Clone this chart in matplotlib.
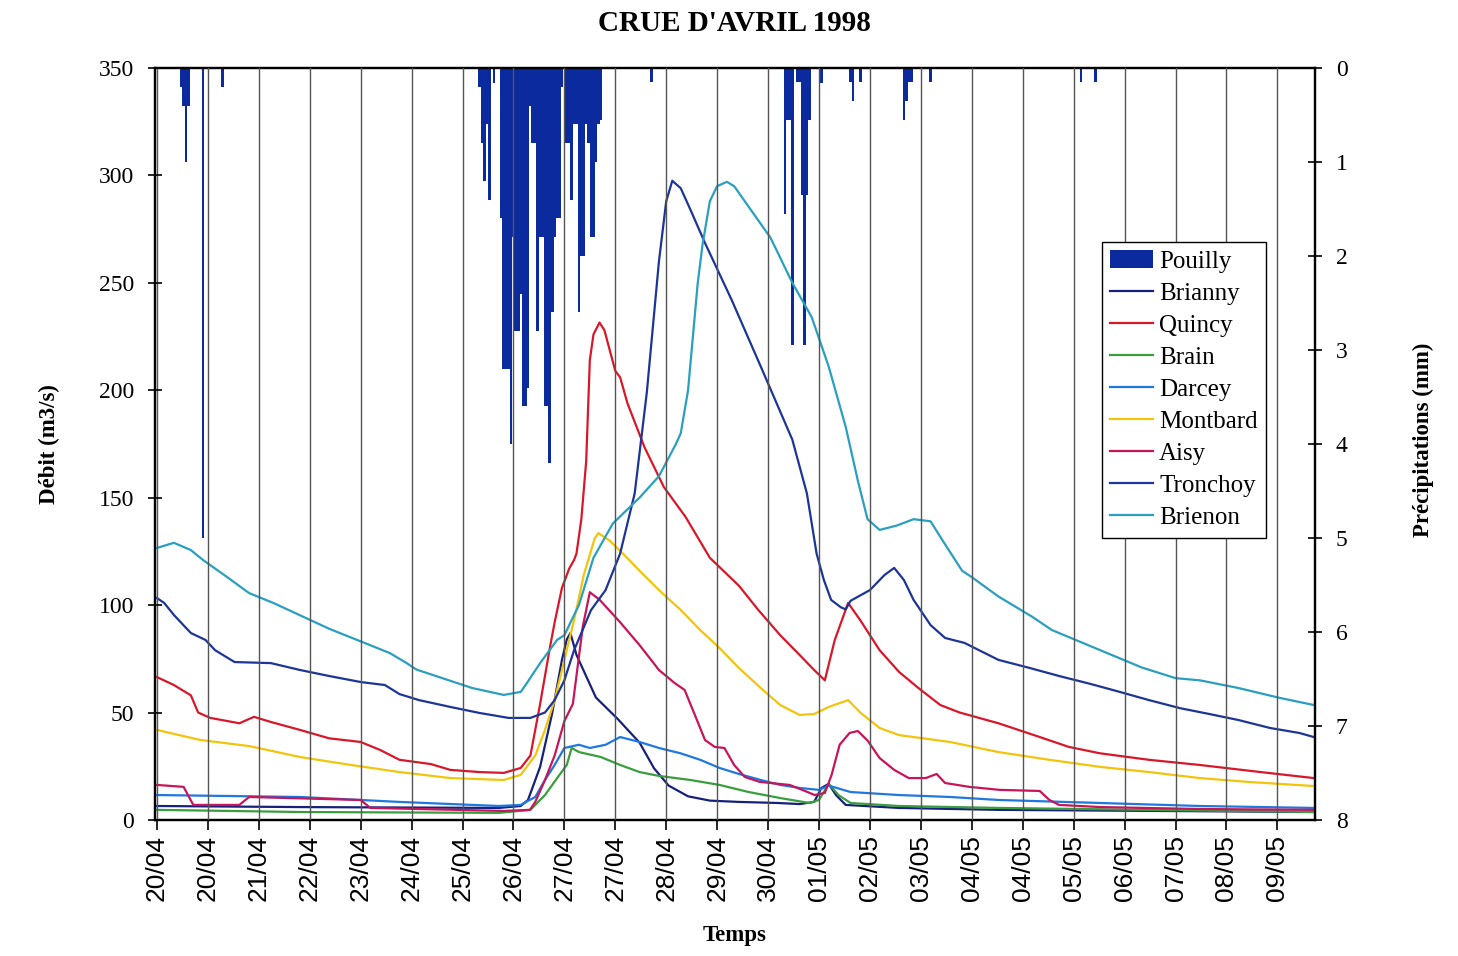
import matplotlib
matplotlib.use("Agg")
import matplotlib.pyplot as plt

plt.rcParams['font.family'] = ['Liberation Serif', 'DejaVu Serif']

# time axis: hours since 20/04 00h, one label every 21 h
tick_labels = ['20/04', '20/04', '21/04', '22/04', '23/04', '24/04', '25/04',
               '26/04', '27/04', '27/04', '28/04', '29/04', '30/04', '01/05',
               '02/05', '03/05', '04/05', '04/05', '05/05', '06/05', '07/05',
               '08/05', '09/05']
tick_step = 21

# Pouilly hourly rain (mm)
rain_h = [10, 11, 12, 13, 19, 27,
          133, 134, 135, 136, 137, 139,
          142, 143, 144, 145, 146, 147, 148, 149, 150, 151, 152, 153, 154, 155,
          156, 157, 158, 159, 160, 161, 162, 163, 164, 165, 166, 167,
          169, 170, 171, 172, 173, 174, 175, 176, 177, 178, 179, 180, 181, 182, 183,
          204, 259, 260, 261, 262, 264, 265, 266, 267, 268, 269, 274,
          286, 287, 290, 308, 309, 310, 311, 319, 381, 387]
rain_mm = [0.2, 0.4, 1.0, 0.4, 5.0, 0.2,
           0.2, 0.8, 1.2, 0.6, 1.4, 0.16,
           1.6, 3.2, 3.2, 3.2, 4.0, 1.8, 2.8, 2.8, 2.4, 3.6, 3.6, 3.4, 0.4, 0.8,
           0.8, 2.8, 1.8, 1.8, 3.6, 3.6, 4.2, 2.6, 1.8, 1.6, 1.6, 0.2,
           0.8, 0.8, 1.4, 0.6, 0.6, 2.6, 2.0, 2.0, 0.6, 0.8, 1.8, 1.8, 1.0, 0.6, 0.55,
           0.15, 1.55, 0.55, 0.55, 2.95, 0.15, 0.15, 1.35, 2.95, 1.35, 0.55, 0.16,
           0.15, 0.35, 0.15, 0.55, 0.35, 0.15, 0.15, 0.15, 0.15, 0.15]

# discharges (m3/s)
brianny_h = [0, 59, 141, 150, 153, 158, 163, 167, 169, 170.5, 173, 181, 190, 199,
             205, 211, 219, 228, 240, 256, 265, 271, 274, 277, 280, 284, 306, 347, 477]
brianny_q = [6.5, 6, 5.6, 6.5, 9.3, 24.7, 49.8, 74.5, 84, 87, 76.8, 57, 47, 36,
             24, 16, 11, 9, 8.4, 7.9, 7.4, 8.4, 14.9, 16.8, 11.6, 7, 5.6, 4.7, 3.7]

quincy_h = [0, 7, 14, 17, 22, 34, 40, 47, 59, 71, 84, 92, 100, 113, 121, 133, 143,
            150, 154, 158, 162, 164, 167, 170, 172, 173, 175, 177, 178.5, 180,
            182.5, 184.5, 189, 191, 194, 201, 209, 218, 228, 240, 248, 257, 265,
            271, 275.4, 279.5, 285, 290, 298, 306, 314, 323, 331, 347, 364, 376,
            389, 409, 430, 455, 477]
quincy_q = [66.5, 62.8, 58, 50, 47.5, 45, 48, 45.6, 41.9, 38, 36.3, 32.6, 28, 26,
            23.3, 22.3, 21.9, 24.2, 30, 54, 80, 92, 108, 117, 121, 124, 140, 167,
            214, 226, 231.5, 228, 209, 206, 194, 173.6, 155, 141, 122, 109, 97.7,
            86, 76.8, 69.8, 65, 83.8, 101, 93, 79, 68.9, 61.4, 53.5, 50, 45, 38.6,
            34, 31, 28, 25.6, 22.3, 19.5]

brain_h = [0, 59, 141, 154, 160, 166, 169, 171, 174, 183, 191, 199, 207, 220, 232,
           244, 257, 269, 273, 277, 281, 286, 306, 347, 477]
brain_q = [4.7, 3.7, 3.3, 4.7, 11.6, 21, 25.6, 33.5, 31.6, 29.3, 25.6, 22.3, 20.5,
           18.6, 16.3, 13, 10.2, 7.9, 9.3, 16.8, 11.6, 7.9, 6.5, 5.6, 3.7]

darcey_h = [0, 59, 84, 100, 141, 150, 156, 160, 164, 168, 174, 178.5, 185, 191,
            199, 207, 216, 224, 232, 240, 249, 257, 265, 273, 277, 286, 306, 327,
            347, 389, 430, 477]
darcey_q = [11.6, 10.7, 9.3, 8.4, 6.5, 7, 10.7, 18.6, 25.6, 33.5, 35, 33.5, 35,
            38.6, 36.3, 33.5, 31, 28, 24.2, 21.4, 18.6, 16.3, 14.9, 14, 16, 13,
            11.6, 10.7, 9.3, 7.9, 6.5, 5.6]

montbard_h = [0, 18, 38, 59, 80, 100, 121, 143, 150, 156, 160, 164, 168, 172, 176,
              180.5, 182, 186.7, 193, 199, 207, 216, 224, 232, 240, 249, 257, 265,
              271, 277, 285, 290, 298, 306, 327, 347, 368, 389, 409, 430, 450, 477]
montbard_q = [41.9, 37.2, 34.4, 29.3, 25.6, 22.3, 19.5, 18.6, 21, 30, 41.9, 55.8,
              74.5, 93, 114, 131, 133.5, 130, 123, 116, 107, 97.7, 88.4, 80, 70.7,
              61.4, 53.5, 48.9, 49.3, 52.6, 55.8, 50, 42.8, 39.5, 36.3, 31.6, 28,
              24.7, 22.3, 19.5, 17.7, 15.8]

aisy_h = [0, 11, 15, 34, 38, 84, 88, 143, 153.8, 156, 160, 164, 168, 171.5, 175.6,
          178.5, 182.6, 191, 199, 207, 213.5, 217.6, 221.8, 226, 230, 234, 238,
          242.4, 248.6, 260.9, 268.3, 271.2, 275.4, 278.2, 281.5, 285.6, 289, 293,
          298, 304, 310, 317, 321.5, 325, 335, 347.5, 364, 368, 372, 389, 430, 477]
aisy_q = [16.3, 15.4, 7, 7, 10.7, 9.3, 5.6, 4.2, 4.7, 8.4, 18.6, 30, 46, 54, 90,
          106, 102.4, 92, 81.4, 69.8, 63.7, 60.5, 48.9, 37.2, 34, 33.5, 25.6, 20,
          17.7, 16.3, 13, 11.6, 12.6, 21, 35, 40.5, 41.4, 37, 28.8, 23.3, 19.5,
          19.5, 21.4, 17.2, 15.4, 14, 13.5, 9.3, 7, 6, 5.1, 4.7]

tronchoy_h = [0, 3, 7, 14, 20, 24, 32, 47, 59, 71, 84, 94, 100, 108, 121, 133, 145,
              154, 160, 164, 168, 172, 179, 185, 191, 197, 202, 207, 210, 212.5,
              216, 220, 226, 237, 249, 262, 268, 272, 275, 278, 282, 284, 286, 294,
              300, 304, 308, 312, 319, 325, 333, 339, 347, 360, 372, 385, 397, 409,
              422, 434, 446, 459, 471, 477]
tronchoy_q = [103.3, 101, 95.4, 87, 83.8, 79, 73.5, 73, 69.8, 67, 64.2, 62.8, 58.6,
              55.8, 52.6, 49.8, 47.5, 47.5, 50, 55.8, 65, 79, 97.7, 107, 124, 152,
              199, 260, 288, 297.5, 294, 284, 268.5, 242, 211, 177, 152, 124, 111.7,
              102.4, 99, 98, 102, 107, 114, 117.3, 111.7, 102.4, 90.7, 84.7, 82.4,
              79, 74.5, 70.7, 67, 63.3, 59.6, 55.8, 52, 49.3, 46.5, 42.8, 40.5, 38.6]

brienon_h = [0, 7, 14, 19, 29, 38, 48, 71, 96, 103, 107, 130, 143, 150, 152, 158,
             165, 168, 174, 180, 188, 199, 207, 214, 216, 219, 221, 223, 225, 228,
             231, 235, 238, 243, 253, 262, 270, 277, 284, 289, 293, 298, 305, 312,
             319, 324, 332, 336, 347, 361, 369, 389, 406, 420, 430, 446, 463, 477]
brienon_q = [126.6, 129, 125.6, 121, 113, 105.6, 101, 89, 77.7, 73, 70, 61.4, 58.2,
             59.6, 62.8, 73, 83.8, 86, 100, 122, 138, 150, 160, 175, 180, 200, 225,
             250, 268, 288, 295, 297, 295, 287, 271, 250, 234, 211, 183, 158, 140,
             135, 137, 140, 139, 130, 116, 113, 104, 94.5, 88.4, 79, 71, 66, 65,
             61.4, 56.8, 53.5]

series = [
    ('Brianny', brianny_h, brianny_q, '#17207a'),
    ('Quincy', quincy_h, quincy_q, '#d8182a'),
    ('Brain', brain_h, brain_q, '#3a9e3e'),
    ('Darcey', darcey_h, darcey_q, '#1f78e0'),
    ('Montbard', montbard_h, montbard_q, '#f2c40c'),
    ('Aisy', aisy_h, aisy_q, '#c8145a'),
    ('Tronchoy', tronchoy_h, tronchoy_q, '#1d3596'),
    ('Brienon', brienon_h, brienon_q, '#2a9fbf'),
]

fig = plt.figure(figsize=(14.58, 9.56), dpi=100)
ax = fig.add_axes([0.1063, 0.1423, 0.7956, 0.7866])
ax2 = ax.twinx()

bars = ax2.bar(rain_h, rain_mm, width=1.15, color='#0b2a9e', linewidth=0,
               label='Pouilly')
ax2.set_ylim(8, 0)
ax2.set_yticks(range(9))
ax2.tick_params(axis='y', direction='inout', length=10, width=1.2, pad=10,
                labelsize=17)
ax2.set_ylabel('Précipitations (mm)', fontsize=16.5, fontweight='bold')
ax2.yaxis.set_label_coords(1.084, 0.505)

handles = [bars]
for name, h, q, col in series:
    ln, = ax.plot(h, q, color=col, linewidth=1.6, label=name)
    handles.append(ln)

ax.set_zorder(ax2.get_zorder() + 1)
ax.patch.set_visible(False)

ax.set_xlim(-0.8, 477.5)
ax.set_ylim(0, 350)
ax.set_yticks(range(0, 351, 50))
ax.set_xticks([i * tick_step for i in range(len(tick_labels))])
ax.set_xticklabels(tick_labels, rotation=90, fontfamily='Liberation Sans',
                   fontsize=19)
ax.tick_params(axis='x', direction='out', length=7, width=1.2, pad=4)
ax.tick_params(axis='y', direction='inout', length=10, width=1.2, pad=10,
               labelsize=17)
ax.xaxis.grid(True, color='#555555', linewidth=1.0)
ax.set_axisbelow(False)

for a in (ax, ax2):
    for s in a.spines.values():
        s.set_linewidth(1.6)
        s.set_color('black')

ax.set_ylabel('Débit (m3/s)', fontsize=16.5, fontweight='bold')
ax.yaxis.set_label_coords(-0.082, 0.5)
ax.set_xlabel('Temps', fontsize=16.5, fontweight='bold')
ax.xaxis.set_label_coords(0.50, -0.14)

fig.text(0.504, 0.975, "CRUE D'AVRIL 1998", ha='center', va='center',
         fontsize=21, fontweight='bold')

leg = ax.legend(handles=handles, loc='upper left', bbox_to_anchor=(0.816, 0.769),
                borderaxespad=0, fontsize=18, frameon=True, fancybox=False,
                edgecolor='black', framealpha=1, handlelength=1.7,
                handletextpad=0.25, labelspacing=0.38, borderpad=0.35)
leg.get_frame().set_linewidth(1.0)

fig.savefig('out.png', dpi=100)
